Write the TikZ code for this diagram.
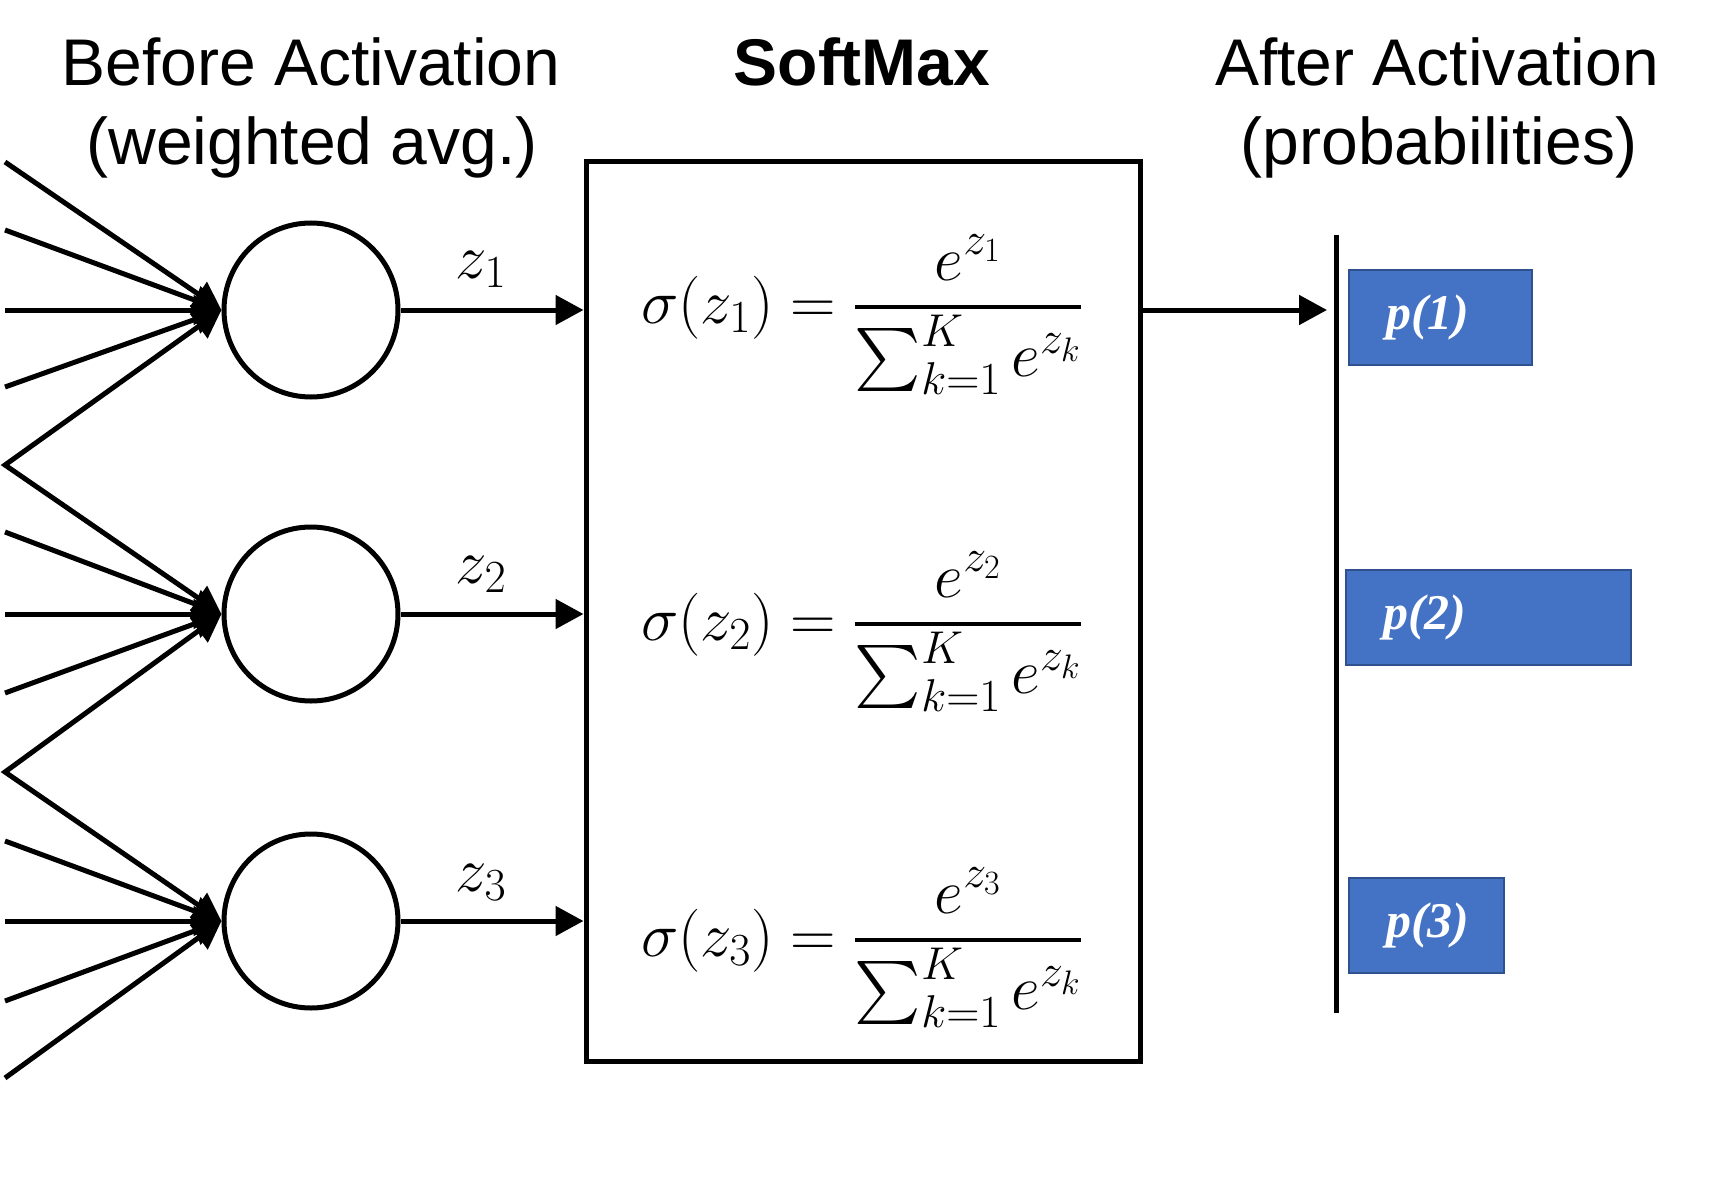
\RequirePackage{fix-cm}
\documentclass[tikz,border=0pt]{standalone}
\usepackage{fontspec}
\setmainfont{Liberation Sans}
\newfontfamily\pfont{Liberation Serif}
\DeclareFontShape{OMX}{cmex}{m}{n}{<-> cmex10}{}
\DeclareMathSizes{63}{63}{46}{34}
\usetikzlibrary{arrows.meta}
\definecolor{barblue}{HTML}{4472C4}
\definecolor{baredge}{HTML}{2F528F}
\newcommand{\smfrac}[2]{{\displaystyle{#1}\above 4pt{\raisebox{-10pt}[0pt][0pt]{$\textstyle#2$}}}}
\begin{document}
\begin{tikzpicture}[x=1pt,y=-1pt,
  lw/.style={line width=5pt},
  arr/.style={lw,-{Triangle[length=28pt,width=29pt]}},
  neuron/.style={circle,draw,lw,minimum size=174pt,inner sep=0pt},
  title/.style={anchor=base,inner sep=0pt,font=\fontsize{66}{77}\selectfont},
  mathtxt/.style={inner sep=0pt,font=\fontsize{63}{72}\selectfont},
  pbar/.style={rectangle,draw=baredge,fill=barblue,line width=2pt,minimum height=95pt,inner sep=0pt,anchor=west},
  plabel/.style={anchor=west,inner sep=0pt,text=white,font=\fontsize{50}{60}\selectfont\pfont\bfseries\itshape}
]
\useasboundingbox (0,0) rectangle (1724,1193);

% titles
\node[title] (t1a) at (311,86) {Before Activation};
\node[title] (t1b) at (312,165) {(weighted avg.)};
\node[title,font=\fontsize{66}{77}\selectfont\bfseries] (t2) at (862,86) {SoftMax};
\node[title] (t3a) at (1437,86) {After Activation};
\node[title] (t3b) at (1439,165) {(probabilities)};

% softmax box
\node[draw,lw,rectangle,minimum width=554pt,minimum height=899pt,inner sep=0pt] (bx) at (863,611.5) {};

% neurons
\node[neuron] (n1) at (311,310) {};
\node[neuron] (n2) at (311,614) {};
\node[neuron] (n3) at (311,921) {};

% input ends
\coordinate (a1) at (5,162);
\coordinate (a2) at (5,230);
\coordinate (a3) at (5,310);
\coordinate (a4) at (5,387);
\coordinate (v1) at (5,465);
\coordinate (b2) at (5,532);
\coordinate (b3) at (5,614);
\coordinate (b4) at (5,693);
\coordinate (v2) at (5,772);
\coordinate (c2) at (5,841);
\coordinate (c3) at (5,921);
\coordinate (c4) at (5,1001);
\coordinate (c5) at (5,1078);

\foreach \p in {a1,a2,a3,a4} \draw[arr] (\p) -- (n1.west);
\foreach \p in {b2,b3,b4} \draw[arr] (\p) -- (n2.west);
\foreach \p in {c2,c3,c4,c5} \draw[arr] (\p) -- (n3.west);
\draw[lw,{Triangle[length=28pt,width=29pt]}-{Triangle[length=28pt,width=29pt]}] (n1.west) -- (v1) -- (n2.west);
\draw[lw,{Triangle[length=28pt,width=29pt]}-{Triangle[length=28pt,width=29pt]}] (n2.west) -- (v2) -- (n3.west);

% neuron outputs
\draw[arr] (n1.east) -- (n1.east -| bx.west);
\draw[arr] (n2.east) -- (n2.east -| bx.west);
\draw[arr] (n3.east) -- (n3.east -| bx.west);
\node[mathtxt,anchor=base] (z1) at (481,278) {$z_1$};
\node[mathtxt,anchor=base] (z2) at (481,583) {$z_2$};
\node[mathtxt,anchor=base] (z3) at (481,891) {$z_3$};

% formulas
\node[mathtxt,anchor=base west] (f1) at (641,323) {$\displaystyle\sigma(z_1)=\smfrac{e^{z_1}}{\sum_{k=1}^{K}e^{z_k}}$};
\node[mathtxt,anchor=base west] (f2) at (641,640) {$\displaystyle\sigma(z_2)=\smfrac{e^{z_2}}{\sum_{k=1}^{K}e^{z_k}}$};
\node[mathtxt,anchor=base west] (f3) at (641,956) {$\displaystyle\sigma(z_3)=\smfrac{e^{z_3}}{\sum_{k=1}^{K}e^{z_k}}$};

% output axis
\coordinate (axtop) at (1336,235);
\coordinate (axbot) at (1336,1013);
\coordinate (outtip) at (1327,310);
\draw[lw] (axtop) -- (axbot);
\draw[arr] (bx.east |- outtip) -- (outtip);

% probability bars
\node[pbar,minimum width=183pt] (p1) at (1348,317.5) {};
\node[pbar,minimum width=285pt] (p2) at (1345,617.5) {};
\node[pbar,minimum width=155pt] (p3) at (1348,925.5) {};
\node[plabel] (l1) at (1386,317.5) {p(1)};
\node[plabel] (l2) at (1383,617.5) {p(2)};
\node[plabel] (l3) at (1386,925.5) {p(3)};
\end{tikzpicture}
\end{document}
